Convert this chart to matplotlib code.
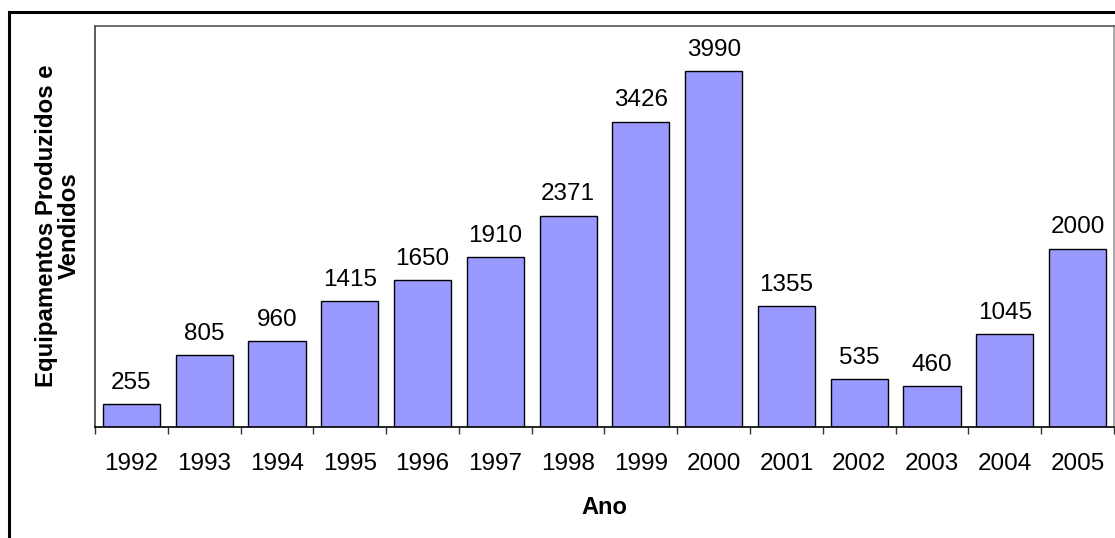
import matplotlib.pyplot as plt
from matplotlib.patches import Rectangle

# --- Data ---
anos = ["1992", "1993", "1994", "1995", "1996", "1997", "1998",
        "1999", "2000", "2001", "2002", "2003", "2004", "2005"]
vendidos = [255, 805, 960, 1415, 1650, 1910, 2371,
            3426, 3990, 1355, 535, 460, 1045, 2000]

plt.rcParams['font.family'] = ['Liberation Sans', 'DejaVu Sans']

W, H = 1115, 538
fig = plt.figure(figsize=(W / 100, H / 100), dpi=100)
fig.patch.set_facecolor('white')

# outer frame, runs off the right and bottom edges
fig.patches.append(Rectangle((9 / W, -0.1), 1.2, 1 - 12 / H + 0.1,
                             transform=fig.transFigure, fill=False,
                             edgecolor='black', linewidth=2.2))

ax = fig.add_axes([95 / W, 1 - 427 / H, (1114 - 95) / W, (427 - 26) / H])

x = list(range(len(anos)))
bars = ax.bar(x, vendidos, width=0.785, color='#9999FF',
              edgecolor='black', linewidth=1.0)

for b, v in zip(bars, vendidos):
    ax.annotate(str(v), (b.get_x() + b.get_width() / 2, v),
                xytext=(0, 11), textcoords='offset points',
                ha='center', va='baseline', fontsize=17.5)

ax.set_xlim(-0.5, len(anos) - 0.5)
ax.set_ylim(0, 4500)
ax.set_yticks([])

# labels at centres, tick marks at boundaries
ax.set_xticks(x)
ax.set_xticklabels(anos, fontsize=17.5)
ax.tick_params(axis='x', which='major', length=0, pad=18.5)
ax.set_xticks([i - 0.5 for i in range(len(anos) + 1)], minor=True)
ax.tick_params(axis='x', which='minor', length=5, width=1,
               direction='out', color='#333333')

ax.spines['bottom'].set_color('black')
ax.spines['left'].set_color('#404040')
ax.spines['top'].set_color('#555555')
ax.spines['right'].set_color('#999999')
for s in ax.spines.values():
    s.set_linewidth(1.2)

fig.text((95 + 1114) / 2 / W, 1 - 514 / H, "Ano", ha='center', va='baseline',
         fontsize=17, fontweight='bold')
fig.text(58 / W, 1 - 226 / H, "Equipamentos Produzidos e\nVendidos",
         rotation=90, ha='center', va='center', multialignment='center',
         fontsize=17.3, fontweight='bold', linespacing=1.0)

fig.savefig("out.png", dpi=100)
